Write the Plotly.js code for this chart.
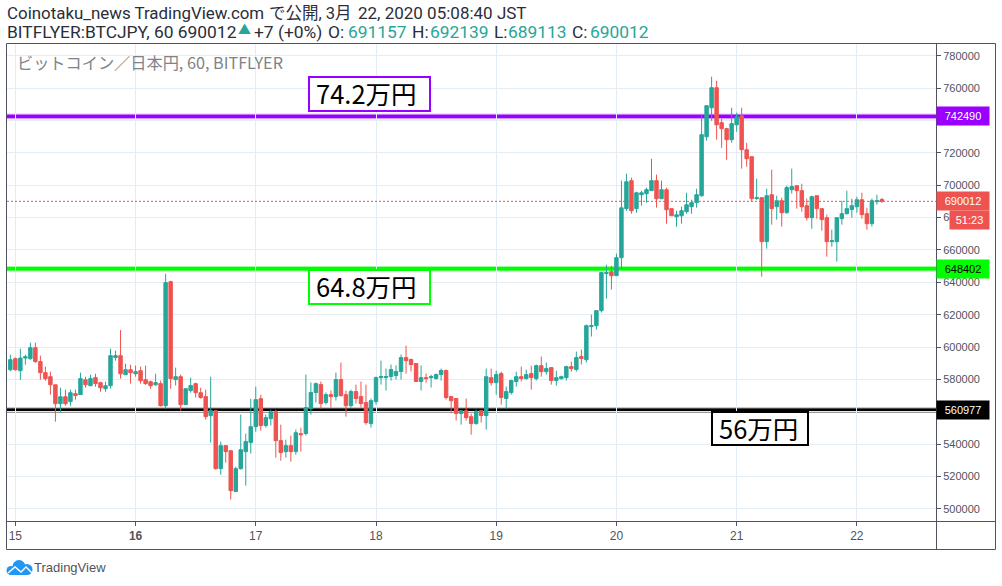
<!DOCTYPE html>
<html>
<head>
<meta charset="utf-8">
<script src="https://cdn.plot.ly/plotly-3.0.1.min.js"></script>
<style>html,body{margin:0;padding:0;background:#fff;overflow:hidden}#c{width:1002px;height:586px}</style>
</head>
<body>
<div id="c"></div>
<script>
// Hourly BTC/JPY candles in thousands of yen; first candle is 14 Mar 23:00
const opens = [586,592.8,585.4,593.2,592.8,599.6,591,584.2,581.7,576.7,
565,569.3,566.3,571.2,570.6,579.8,576.1,581.1,578,574.3,
576.1,593.5,594.7,582.9,586,583.5,585.4,579.8,578.6,576.7,
577.4,563.8,640.4,579.9,581.7,564.4,573.1,577.4,571.8,569.4,
557.6,560.7,524.9,539.1,536,510.7,524.9,535.4,541,550.8,
568.1,551.5,555.8,560.1,542.2,535.4,539.1,535.4,546.5,546.6,
562,571.9,576.8,565.7,570.6,569.4,579.9,570.6,563.8,572.5,
569.4,565.7,552.7,566.3,581.1,581.1,581.8,582.4,584.9,593.5,
592.3,589.8,578.7,581.1,581.1,580.5,583,585.5,569.4,568.2,
558.9,560.7,557,552.7,560.7,557.7,581.1,578,583.6,568.2,
571.9,578.7,581.7,580.5,583.6,580.5,588.5,584.8,587.3,579.3,
580.5,581.1,587.9,586.1,594.1,592.2,612.6,613.2,622.5,645.4,
646.5,644.1,655.2,685.5,702.8,685.5,694.1,694.7,696.6,702.8,
691.6,697.2,685.5,680.5,681.1,683.6,686.7,689.2,693.5,729.9,
747.8,760.2,738.6,734.9,728.1,737.3,742.9,721.9,717.6,691.7,
692.3,665.1,694.1,686.7,690.4,683,697.2,699.7,696.6,687.3,
679.9,693.5,685.5,679.9,665.1,665.1,679.3,682.4,684.9,686.7,
691,682.4,676.2,689.8,691.157];
const highs = [595.3,593.6,599,595.3,602.7,602.7,594.7,587.9,584.8,576.7,
574.9,573.7,573.7,573.7,584.2,581.7,582.9,583.5,578.6,578.6,
599,597.8,610.5,589.7,589.1,588.5,587.9,588.5,579.2,583.5,
579.3,645.3,641,587.3,583,574.3,581.1,578,574.9,573.7,
581.7,560.7,541.6,539.1,536,526.1,558.3,546.5,568.1,575.5,
570.6,558.3,561.3,561.3,552.1,542.8,545.3,549,550.2,583,
578.1,578.1,578.7,571.9,573.1,584.2,590.4,573.1,573.7,576.8,
578.7,576.8,568.2,581.8,591.6,586.7,589.2,588.6,595.4,600.9,
592.9,589.8,588.6,583.6,583,583.6,586.7,586.1,569.4,568.2,
560.7,568.2,558.9,561.4,560.7,586.7,586.7,585.4,584.8,575.6,
579.9,584.8,587.9,586.1,588.5,589.2,594.1,590.4,587.3,585.4,
582.4,588.5,591,597.2,598.4,613.9,620,622.5,646,650.9,
650.2,657.7,702.8,707.1,704.6,696,696.6,698.4,716.3,706.5,
702.8,698.4,685.5,684.2,686.7,695.3,691,697.8,743,749.1,
767,764.5,741,735.5,747.8,744.8,747.8,726.2,717.6,704,
692.3,697.8,709.6,693.5,692.3,699.7,710.2,699.7,700.9,691.7,
693.5,693.5,685.5,681.8,672.5,679.9,690.4,696.6,691.7,692.9,
695.4,686.1,691.7,694.1,692.139];
const lows = [585,585.4,579.8,589.1,592.2,590.3,579.8,579.2,570.6,553.9,
559.5,563.8,563.8,567.5,570.6,574.9,576.1,575.5,572.4,572.4,
574.3,591.6,580.5,582.9,577.4,581.7,577.4,576.7,574.3,576.1,
563.2,562,574.3,576.2,560.7,564.4,571.8,568.8,568.1,555.2,
541,524.3,521.2,528.6,505.8,510.7,524.3,514.4,534.2,547.7,
548.4,550.2,551.5,531.7,529.8,531.7,529.2,533.5,535.4,545.3,
558.3,565.7,562,564.5,562.6,566.9,569.4,557,562.6,565.1,
562.6,552.1,550.3,564.5,576.8,573.1,579.3,579.9,579.9,583.6,
584.9,578.7,573.1,578.1,575,579.9,579.3,567.6,559.1,554.6,
552.1,554.6,545.9,552.1,553.3,549,576.2,570.6,564.4,562,
570.6,575.6,578.7,579.9,573.7,579.3,581.7,583,576.8,576.2,
579.9,579.3,584.8,584.8,589.2,590.4,606.5,610.8,621.3,629.9,
635.5,644.1,648.4,684.2,682.4,683,687.3,689.2,696.6,686.1,
691.6,676.2,681.1,674.3,676.2,682.4,682.4,686.1,692.9,727.5,
739.8,728.1,723.1,715.7,726.2,733,710.2,711.4,689.8,691,
643.5,660.8,675.6,678.7,674.4,682.4,694.8,685.5,683.6,678.1,
673.1,679.3,671.9,655.8,662,652.8,675.6,681.8,679.9,683,
679.3,672.5,674.4,688,689.113];
const closes = [592.2,586,593.2,594,599.6,591,584.2,580.5,576.7,565,
569.3,565,571.8,570,580.5,576.7,580.5,577.4,574.9,576.1,
594.7,594.7,583.5,586,584.2,584.8,579.2,577.4,576.1,578,
563.8,639.8,580.5,581.7,564.4,574.3,576.2,571.8,568.8,557,
560.7,524.9,539.1,535.4,511.3,524.9,536.6,541.6,550.8,567.5,
551.5,556.4,560.1,542.2,534.8,539.1,535.4,547.1,545.9,562.6,
571.9,577.4,565.1,570.6,569.4,579.9,570,563.8,572.5,568.2,
565.1,553.3,566.9,581.1,581.8,581.8,586.1,584.9,593.5,591.6,
589.2,578.7,581.1,580.5,581.8,583,585.5,568.8,566.9,558.9,
560.7,556.4,552.7,560.1,557.7,581.7,578,583,568.8,572.5,
579.3,581.7,580.5,583,581.1,588.5,584.8,586.7,579.3,581.1,
581.7,587.9,586.7,593.5,592.9,613.2,613.2,622.5,646,646,
644.1,655.2,686,702.1,684.2,695.3,695.3,697.2,702.8,691.6,
697.2,684.8,681.1,681.7,684.2,687.9,689.2,694.1,731.2,749.1,
760.2,737.3,734.9,728.1,738,742.3,721.9,716.3,691.7,692.3,
665.1,693.5,685.5,690.4,683,698.5,699.1,696.6,686.7,679.9,
692.9,685.5,678.7,665.1,665.7,679.9,682.4,685.5,687.3,691,
681.8,676.2,690.4,690.4,690.012];

const dayDates = ["2020-03-15","2020-03-16","2020-03-17","2020-03-18","2020-03-19","2020-03-20","2020-03-21","2020-03-22"];
const dayLabels = ["15","<b>16</b>","17","18","19","20","21","22"];
const priceTicks = [500000,520000,540000,560000,580000,600000,620000,640000,660000,680000,700000,720000,740000,760000,780000];
const levelValues = [742490,648402,560977];
const levelColors = ["#9900ff","#00ff00","#000000"];
const levelLabels = ["742490","648402","560977"];
const levelText = ["#ffffff","#000000","#ffffff"];
const lastPrice = 690012;

const UP="#26a69a", DOWN="#ef5350", INK="#50535e", GRID="#e3edf3", DARK="#2a2e39";
const SANS='"Liberation Sans", "Noto Sans CJK JP", sans-serif';
const HEAD='Roboto, "Noto Sans CJK JP", sans-serif';
const JP='"Noto Sans CJK JP", "Liberation Sans", sans-serif';

const pad=n=>String(n).padStart(2,"0");
const times=opens.map((_,i)=>{
  const d=new Date(Date.UTC(2020,2,14,23+i));
  return `${d.getUTCFullYear()}-${pad(d.getUTCMonth()+1)}-${pad(d.getUTCDate())} ${pad(d.getUTCHours())}:00:00`;
});
const k=a=>a.map(v=>v*1000);

// pixel helpers (plot frame: x 7..936, y 44..521)
const L=7,R=936,T=44,B=521;
const px=x=>(x-L)/(R-L), py=y=>(B-y)/(B-T);

const shapes=[];
// frame
[[6.5,43.5,995.5,43.5],[6.5,549.5,995.5,549.5],[6.5,43.5,6.5,549.5],[995.5,43.5,995.5,549.5],[936.5,43.5,936.5,549.5],[6.5,521.5,995.5,521.5]]
 .forEach(s=>shapes.push({type:"line",xref:"paper",yref:"paper",x0:px(s[0]),y0:py(s[1]),x1:px(s[2]),y1:py(s[3]),line:{color:INK,width:1},layer:"above"}));
levelValues.forEach((v,i)=>{
  shapes.push({type:"line",xref:"paper",x0:0,x1:1,y0:v,y1:v,line:{color:levelColors[i],width:5.5},opacity:0.4,layer:"below"});
  shapes.push({type:"line",xref:"paper",x0:0,x1:1,y0:v,y1:v,line:{color:levelColors[i],width:3.4},layer:"below"});
});
shapes.push({type:"line",xref:"paper",x0:0,x1:1,y0:lastPrice,y1:lastPrice,line:{color:DOWN,width:1,dash:"2px,2px"},layer:"above"});

const ann=[];
const free=(text,x,y,size,color,font)=>ann.push({xref:"paper",yref:"paper",x:px(x),y:py(y),xanchor:"left",yanchor:"middle",text,showarrow:false,font:{size,color,family:font}});

free("Coinotaku_news TradingView.com",5,13,16.9,DARK,HEAD);
free("で公開, 3月",267,13,16.5,DARK,HEAD);
free("22, 2020 05:08:40 JST",356,13,17,DARK,HEAD);
free("BITFLYER:BTCJPY, 60 690012",5,32,17.4,DARK,HEAD);
free("▲",236,30,13,UP,HEAD);
free("+7 (+0%)",252,32,17.4,DARK,HEAD);
free("O:",326,32,17.4,DARK,HEAD);
free("691157",346,32,17.4,UP,HEAD);
free("H:",410,32,17.4,DARK,HEAD);
free("692139",428,32,17.4,UP,HEAD);
free("L:",492,32,17.4,DARK,HEAD);
free("689113",506,32,17.4,UP,HEAD);
free("C:",570,32,17.4,DARK,HEAD);
free("690012",588,32,17.4,UP,HEAD);
free("ビットコイン／日本円, 60, BITFLYER",15,62,16.2,"#7f8388",JP);
free("TradingView",32,567,13,INK,SANS);

// callout boxes
[["74.2万円",309,77,430,111,levelColors[0]],["64.8万円",309,270,430,304,levelColors[1]],["56万円",712,412,808,445,levelColors[2]]]
 .forEach(b=>{
   shapes.push({type:"rect",xref:"paper",yref:"paper",x0:px(b[1]),x1:px(b[3]),y0:py(b[2]),y1:py(b[4]),fillcolor:"#ffffff",line:{color:b[5],width:2},layer:"above"});
   free(b[0],b[1]+5,(b[2]+b[4])/2-1.5,25.5,"#000000",JP);
 });

// price labels on the axis
const priceLabel=(text,y,bg,fg,left,w,shift)=>ann.push({xref:"paper",yref:"y",x:px(left),y,yshift:shift||0,xanchor:"left",yanchor:"middle",width:w,height:18,borderpad:0,
   text,showarrow:false,bgcolor:bg,align:"center",font:{size:11,color:fg,family:SANS}});
levelValues.forEach((v,i)=>priceLabel(levelLabels[i],v,levelColors[i],levelText[i],936,52));
priceLabel("690012",lastPrice,DOWN,"#ffffff",936,52);
priceLabel("51:23",lastPrice,DOWN,"#ffffff",949,39,-19);

const cloud="data:image/svg+xml;utf8,"+encodeURIComponent('<svg xmlns="http://www.w3.org/2000/svg" viewBox="0 0 27 15"><g fill="#2196f3"><circle cx="5" cy="10.5" r="4.5"/><circle cx="13" cy="6.5" r="6.5"/><circle cx="21" cy="9.5" r="5.5"/><rect x="5" y="9" width="17" height="6"/></g><path fill="none" stroke="#fff" stroke-width="1.4" d="M2 13L9 7L15 12L20 7L26 13"/></svg>');

const layout={
  width:1002,height:586,autosize:false,
  margin:{l:L,r:1002-R,t:T,b:586-B,pad:0},
  paper_bgcolor:"#fff",plot_bgcolor:"#fff",
  showlegend:false,boxgap:0.02,
  xaxis:{type:"date",range:["2020-03-14 22:20:00","2020-03-22 15:48:00"],rangeslider:{visible:false},
    tickmode:"array",tickvals:dayDates,ticktext:dayLabels,ticks:"outside",ticklen:4,tickcolor:INK,
    showgrid:true,gridcolor:GRID,gridwidth:1,zeroline:false,showline:false,
    tickfont:{size:12,color:INK,family:SANS},tickangle:0,automargin:false},
  yaxis:{side:"right",range:[492550,787200],tickmode:"array",tickvals:priceTicks,ticktext:priceTicks.map(String),
    ticks:"outside",ticklen:4,tickcolor:INK,showgrid:true,gridcolor:GRID,gridwidth:1,zeroline:false,showline:false,
    tickfont:{size:11,color:INK,family:SANS},automargin:false},
  shapes,annotations:ann,
  images:[{source:cloud,xref:"paper",yref:"paper",x:px(6),y:py(560),sizex:27/(R-L),sizey:15/(B-T),xanchor:"left",yanchor:"top",sizing:"stretch",layer:"above"}]
};
Plotly.newPlot("c",[{type:"candlestick",x:times,open:k(opens),high:k(highs),low:k(lows),close:k(closes),
  increasing:{line:{color:UP,width:1},fillcolor:UP},decreasing:{line:{color:DOWN,width:1},fillcolor:DOWN},whiskerwidth:0,hoverinfo:"skip"}],layout,{staticPlot:true,displayModeBar:false});
</script>
</body>
</html>
